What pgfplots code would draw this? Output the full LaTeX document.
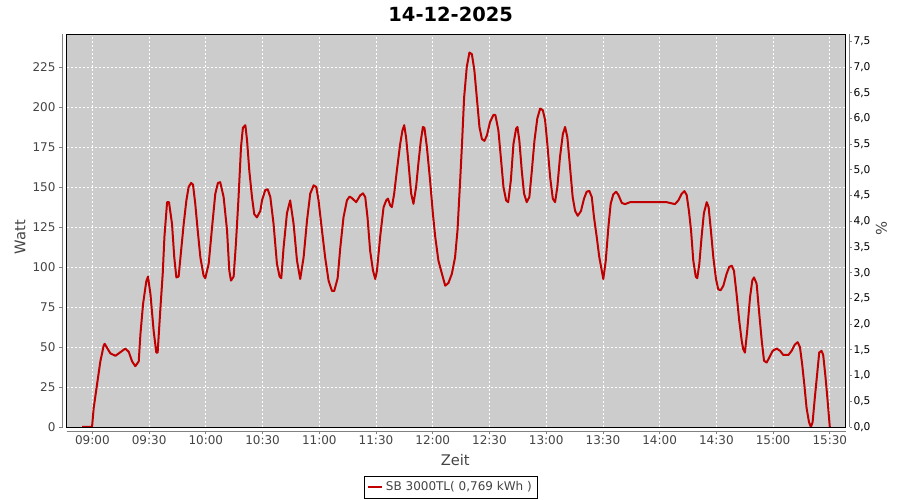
\documentclass[border=0pt]{standalone}
\usepackage{pgfplots}
\pgfplotsset{compat=1.18}
\usepackage{fontspec}
\setmainfont{DejaVu Sans}
\definecolor{plotbg}{RGB}{204,204,204}
\definecolor{linered}{RGB}{192,0,0}
\definecolor{labgray}{RGB}{68,68,68}
\definecolor{axgray}{RGB}{128,128,128}
\begin{document}
\begin{tikzpicture}[x=1pt,y=1pt]
\useasboundingbox (0,0) rectangle (675,375);
\node[font=\fontsize{14.6pt}{16pt}\selectfont\bfseries, anchor=center] at (338,364.5) {14-12-2025};
\begin{axis}[
  name=main,
  at={(49.875pt,54.75pt)}, anchor=south west,
  scale only axis, width=584.25pt, height=294.75pt,
  xmin=526.3, xmax=938.3, ymin=0, ymax=245.6,
  axis background/.style={fill=plotbg},
  axis line style={black, line width=0.6pt},
  xtick={540,570,600,630,660,690,720,750,780,810,840,870,900,930},
  xticklabels={09:00,09:30,10:00,10:30,11:00,11:30,12:00,12:30,13:00,13:30,14:00,14:30,15:00,15:30},
  ytick={0,25,...,225},
  tick pos=left,
  tick align=outside, major tick length=2.25pt,
  xtick style={axgray, line width=0.6pt, yshift=-3pt},
  ytick style={axgray, line width=0.6pt, xshift=-3pt},
  ticklabel style={font=\fontsize{9pt}{10pt}\selectfont, text=labgray},
  xticklabel style={yshift=-1pt},
  yticklabel style={xshift=-2.5pt},
  /pgf/number format/assume math mode=true,
  grid=major,
  major grid style={white, line width=0.6pt, dash pattern=on 1.5pt off 1.5pt},
  xlabel={Zeit}, ylabel={Watt},
  label style={font=\fontsize{11pt}{12pt}\selectfont, text=labgray},
  xlabel style={at={(axis description cs:0.499,-0.084)}, anchor=center},
  ylabel style={at={(axis description cs:-0.0596,0.4835)}, anchor=center, rotate=0},
  legend style={at={(axis description cs:0.493,-0.1247)}, anchor=north, draw=black, fill=white,
    font=\fontsize{9pt}{10pt}\selectfont, inner sep=2pt, line width=0.6pt, text=labgray},
  legend image code/.code={\draw[#1, line width=1.5pt] (0pt,0pt) -- (11pt,0pt);},
]
\addplot[linered, line width=1.5pt, line join=round] coordinates {
(534.6,0) (539.8,0) (540.7,12) (542.5,27) (544.2,41) (546.0,51) (546.5,52) (549.5,46)
(552.2,44.5) (557.4,49) (559.2,47) (561.0,41) (562.7,38) (564.5,41) (565.4,58) (566.8,77)
(568.5,91) (569.4,94) (570.7,83) (572.4,60) (573.8,46.5) (574.5,46.5) (575.9,73) (577.2,96)
(578.1,119) (579.5,140.5) (580.5,140.5) (582.1,127) (583.3,106) (584.4,93.5) (585.6,94)
(586.9,110) (588.3,127) (589.7,141.6) (590.9,150) (592.2,152.5) (593.2,151.5) (594.4,139.5)
(595.7,122.8) (597.1,106) (598.8,94.6) (599.7,93) (601.5,102) (603.3,125) (605.0,145.8)
(606.4,152.5) (607.6,153) (609.4,143.7) (611.2,123) (612.4,97.7) (613.3,91.5) (614.7,94)
(615.9,114.5) (617.3,143.7) (618.6,175) (619.6,187) (620.9,188.6) (621.8,179) (623.0,160)
(624.4,143.7) (625.6,133) (627.0,131) (628.8,135) (629.7,141.6) (631.4,148) (632.7,148.6)
(634.1,143.7) (635.8,127) (637.6,102) (639.0,94) (639.9,93) (641.1,112) (642.9,133.6)
(644.6,141.6) (646.4,127) (648.2,104) (649.9,92.5) (651.7,106) (653.5,129) (655.2,145.8)
(657.0,151) (658.4,150) (659.6,141.6) (661.4,123) (663.1,106) (664.9,91.5) (666.7,85)
(667.9,85) (669.7,93) (671.1,112) (672.8,131) (674.6,141.6) (676.0,144) (677.3,143)
(679.5,140.5) (681.6,144.7) (683.1,146) (684.3,143.7) (685.5,131) (686.9,110) (688.4,97.7)
(689.6,92.5) (690.5,97.7) (692.2,119) (694.0,137.4) (695.4,141.6) (696.3,142.7) (697.5,138.5)
(698.4,137.4) (699.6,145.8) (701.0,160) (702.8,177) (704.0,185.5) (704.9,188.6) (705.9,181)
(707.2,164.6) (708.6,145.8) (709.8,139.5) (711.2,150) (712.4,164.6) (713.7,179) (714.8,187.5)
(715.6,187) (716.9,175) (718.6,154) (720.1,133) (721.3,119) (723.0,104) (724.8,96)
(726.6,88.3) (728.3,90) (730.1,95.7) (731.8,106) (733.1,123) (734.5,154) (735.4,175)
(736.6,206) (738.0,225) (739.4,234) (740.7,233) (742.0,223) (743.3,206) (744.7,187.5)
(746.0,180) (747.3,178.8) (748.6,182) (750.3,190.6) (752.1,195) (753.1,195) (754.7,185.5)
(756.0,168.7) (757.4,150) (758.8,141.6) (759.9,140.5) (761.3,154) (762.7,177) (764.1,186.5)
(764.8,187.5) (765.8,179) (767.1,160) (768.3,145.8) (769.7,140.5) (771.1,143.7) (772.4,160)
(773.8,179) (775.3,192.8) (776.8,199) (778.2,198) (779.4,192) (780.6,177) (782.1,156)
(783.5,142.7) (784.7,140.5) (785.9,150) (787.3,168.7) (788.8,183) (790.0,187.5) (791.2,181)
(792.6,162.5) (794.0,143.7) (795.3,135) (796.7,132) (798.4,135) (800.0,142.7) (801.4,147)
(802.8,147.6) (804.1,143.7) (805.3,131) (806.7,119) (808.1,106) (809.4,97.7) (810.2,92.5)
(811.5,104) (812.9,125) (814.1,139.5) (815.5,145.4) (817.0,147) (818.2,145) (820.0,140)
(821.7,139.3) (824.4,140.5) (843.7,140.5) (845.5,140) (848.1,139.3) (849.9,141.6) (851.7,145.8)
(853.1,147.4) (854.3,145) (855.5,135) (856.6,123) (857.8,104) (859.1,94) (859.9,93)
(861.0,102) (862.2,119) (863.4,133.6) (864.9,140.5) (865.9,137.4) (867.1,123) (868.4,106)
(869.8,92.5) (871.0,86) (872.3,85.5) (873.7,88.3) (875.4,95.7) (876.8,100) (878.1,100.8)
(879.3,97.7) (880.7,83) (882.1,66.4) (883.4,54) (884.2,48.7) (885.1,46.5) (886.3,60)
(887.8,81) (889.0,91.5) (889.9,93.5) (891.3,89.5) (892.7,70.6) (894.0,54) (895.2,41.4)
(896.6,40.3) (898.0,43.4) (899.8,47.6) (901.9,49) (903.7,47.6) (905.4,45) (908.1,45)
(909.8,47.6) (911.5,51.5) (913.0,53) (914.2,50) (915.4,39) (916.5,26.7) (917.7,12)
(919.0,3) (920.0,0) (920.9,3) (922.1,18.6) (923.3,33) (924.4,46.5) (925.6,47.6)
(926.5,45) (927.7,31.5) (928.8,17) (929.6,5.5) (930.0,0)
};
\addlegendentry{SB 3000TL( 0,769 kWh )}
\end{axis}
\begin{axis}[
  at={(49.875pt,54.75pt)}, anchor=south west,
  scale only axis, width=584.25pt, height=294.75pt,
  xmin=526.3, xmax=938.3, ymin=0, ymax=7.641,
  axis y line*=right, axis x line=none,
  ytick={0,0.5,...,7.5},
  tick align=outside, major tick length=1.5pt,
  ytick style={axgray, line width=0.6pt, xshift=3pt},
  yticklabel style={font=\fontsize{8pt}{9pt}\selectfont, text=black, xshift=1pt},
  /pgf/number format/.cd, fixed, fixed zerofill, precision=1, use comma, assume math mode=true,
  /pgfplots/.cd,
  axis line style={black, line width=0.6pt},
  ylabel={\%},
  ylabel style={font=\fontsize{11pt}{12pt}\selectfont, text=labgray, at={(axis description cs:1.046,0.506)}, anchor=center, rotate=180},
]
\end{axis}
\draw[axgray, line width=0.6pt] ([xshift=-3pt]main.south west) -- ([xshift=-3pt]main.north west);
\draw[axgray, line width=0.6pt] ([xshift=3pt]main.south east) -- ([xshift=3pt]main.north east);
\draw[axgray, line width=0.6pt] ([yshift=-3pt]main.south west) -- ([yshift=-3pt]main.south east);
\end{tikzpicture}
\end{document}
